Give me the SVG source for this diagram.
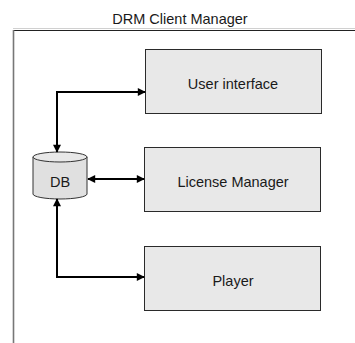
<svg xmlns="http://www.w3.org/2000/svg" width="355" height="343" viewBox="0 0 355 343">
<style>
text{font-family:"Liberation Sans",Arial,sans-serif;font-size:14.5px;fill:#1a1a1a;text-anchor:middle}
.box{fill:#e8e8e8;stroke:#2a2a2a;stroke-width:1}
.con{fill:none;stroke:#000;stroke-width:2}
</style>
<defs>
<marker id="ah" viewBox="0 0 10 10" refX="9" refY="5" markerWidth="4.5" markerHeight="4" orient="auto-start-reverse" markerUnits="strokeWidth">
<path d="M0,0L10,5L0,10Z" fill="#000"/>
</marker>
</defs>
<rect width="355" height="343" fill="#fff"/>
<g id="frame">
<text x="180" y="24">DRM Client Manager</text>
<line x1="13" y1="28.5" x2="355" y2="28.5" stroke="#d0d0d0" stroke-width="1"/>
<line x1="13" y1="30.5" x2="355" y2="30.5" stroke="#222" stroke-width="1"/>
<line x1="13.5" y1="30" x2="13.5" y2="343" stroke="#777" stroke-width="1.6"/>
</g>
<g id="user-interface">
<rect class="box" x="145.5" y="49.5" width="176" height="64"/>
<text x="233" y="89">User interface</text>
</g>
<g id="license-manager">
<rect class="box" x="144.5" y="147.5" width="176" height="64"/>
<text x="233" y="187">License Manager</text>
</g>
<g id="player">
<rect class="box" x="144.5" y="246.5" width="176" height="64"/>
<text x="233" y="286">Player</text>
</g>
<g id="db">
<path d="M33,157 L33,194 A27,5 0 0 0 87,194 L87,157" fill="#e0e0e0" stroke="#333" stroke-width="1"/>
<ellipse cx="60" cy="157" rx="27" ry="5" fill="#e8e8e8" stroke="#333" stroke-width="1"/>
<text x="60" y="186.5">DB</text>
</g>
<g id="connectors">
<path class="con" d="M145,92 L57,92 L57,152" marker-start="url(#ah)" marker-end="url(#ah)"/>
<path class="con" d="M88,179 L144,179" marker-start="url(#ah)" marker-end="url(#ah)"/>
<path class="con" d="M57,199 L57,277 L144,277" marker-start="url(#ah)" marker-end="url(#ah)"/>
</g>
</svg>
